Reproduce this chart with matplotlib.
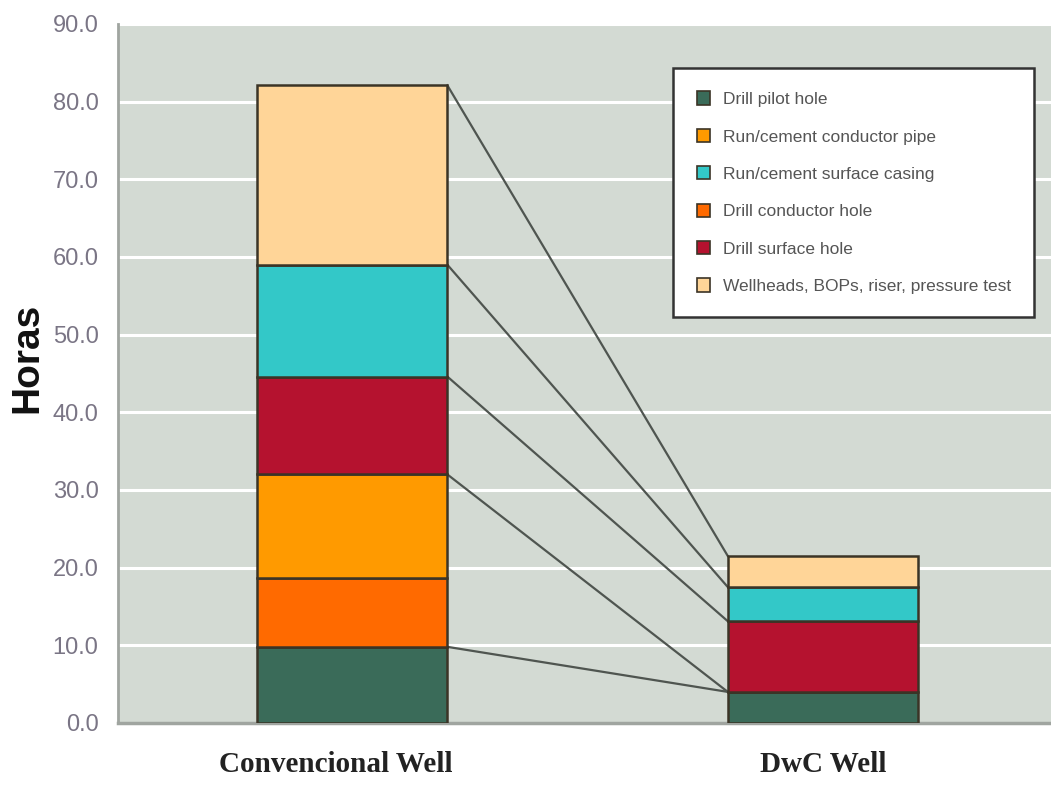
"""Stacked bars: conventional vs DwC well, hours per operation"""
import numpy as np
import matplotlib.pyplot as plt
from matplotlib.transforms import ScaledTranslation

# Data (hours)
wells = ['Convencional Well', 'DwC Well']
stages = ['Drill pilot hole', 'Drill conductor hole', 'Run/cement conductor pipe',
          'Drill surface hole', 'Run/cement surface casing',
          'Wellheads, BOPs, riser, pressure test']
pilot_hole = [9.8, 4.0]
conductor_hole = [8.9, 0.0]
conductor_pipe = [13.3, 0.0]
surface_hole = [12.6, 9.1]
surface_casing = [14.4, 4.4]
wellheads = [23.1, 4.0]
series_lines = [True, False, True, True, True, True]  # which tops get a connector

colors = ['#3a6b59', '#ff6a00', '#ff9a00', '#b5122f', '#33c8c8', '#ffd598']
legend_order = [0, 2, 4, 1, 3, 5]
yticks = np.arange(0, 91, 10)

values = [pilot_hole, conductor_hole, conductor_pipe, surface_hole, surface_casing, wellheads]

fig = plt.figure(figsize=(10.51, 7.89), dpi=100)
ax = fig.add_axes([0.1123, 0.0837, 0.8877, 0.8859])
ax.set_facecolor('#d3dad3')

x = np.arange(len(wells))
width = 0.404
bottom = np.zeros(len(wells))
handles = []
for vals, name, col, line in zip(values, stages, colors, series_lines):
    vals = np.array(vals)
    bars = ax.bar(x, vals, width, bottom=bottom, color=col, edgecolor='#3b3426',
                  linewidth=1.8, label=name, zorder=3)
    handles.append(bars)
    top = bottom + vals
    if line:
        ax.plot([x[0] + width / 2, x[1] - width / 2], [top[0], top[1]],
                color='#4f5550', linewidth=1.6, zorder=2)
    bottom = top

ax.set_xlim(-0.498, 1.485)
ax.set_ylim(0, 90)
ax.set_yticks(yticks)
ax.set_yticklabels([f'{v:.1f}' for v in yticks], fontsize=17, color='#7a7585',
                   family='Liberation Sans')
ax.yaxis.grid(True, color='white', linewidth=2.2, zorder=1)
ax.tick_params(axis='y', length=0, pad=14)
ax.set_xticks(x)
ax.set_xticklabels(wells, fontsize=21, fontweight='bold', family='Liberation Serif',
                   color='#222222')
ax.tick_params(axis='x', length=0, pad=20)
xl = ax.get_xticklabels()
xl[0].set_transform(xl[0].get_transform() + ScaledTranslation(-0.17, 0, fig.dpi_scale_trans))

for side in ['top', 'right']:
    ax.spines[side].set_visible(False)
ax.spines['left'].set_color('#a0a5a0')
ax.spines['left'].set_linewidth(2)
ax.spines['bottom'].set_color('#a0a5a0')
ax.spines['bottom'].set_linewidth(2.5)

fig.text(0.026, 0.547, 'Horas', rotation=90, fontsize=28, fontweight='bold',
         family='Liberation Sans', va='center', ha='center', color='#111111')

leg = ax.legend([handles[i] for i in legend_order], [stages[i] for i in legend_order],
                loc='upper left', bbox_to_anchor=(0.595, 0.937), borderaxespad=0,
                prop={'family': 'Liberation Sans', 'size': 12.5},
                frameon=True, fancybox=False, edgecolor='#333333', facecolor='white',
                framealpha=1, labelspacing=1.25, handlelength=0.8, handleheight=0.8,
                handletextpad=0.7, borderpad=1.35, labelcolor='#555555')
leg.get_frame().set_linewidth(1.8)
for h in leg.legend_handles:
    h.set_linewidth(1.2)

plt.savefig('out.png', dpi=100)
plt.close()
